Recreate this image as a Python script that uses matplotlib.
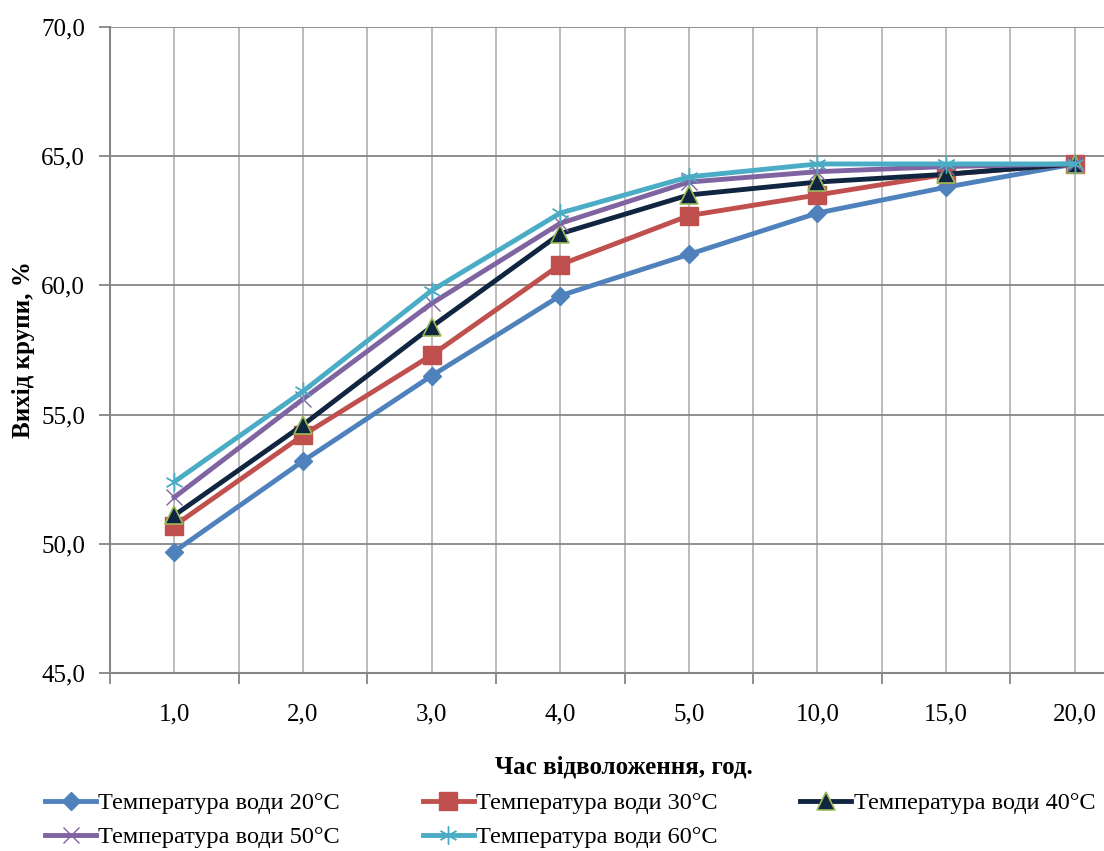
import numpy as np
import matplotlib
matplotlib.use("Agg")
import matplotlib.pyplot as plt
from matplotlib.ticker import FixedLocator, NullFormatter, FixedFormatter

plt.rcParams['font.family'] = ['Liberation Serif', 'DejaVu Serif']

# data
categories = ['1,0', '2,0', '3,0', '4,0', '5,0', '10,0', '15,0', '20,0']
t20 = [49.7, 53.2, 56.5, 59.6, 61.2, 62.8, 63.8, 64.7]
t30 = [50.7, 54.2, 57.3, 60.8, 62.7, 63.5, 64.3, 64.7]
t40 = [51.1, 54.6, 58.4, 62.0, 63.5, 64.0, 64.3, 64.7]
t50 = [51.8, 55.6, 59.3, 62.4, 64.0, 64.4, 64.6, 64.7]
t60 = [52.4, 55.9, 59.8, 62.8, 64.2, 64.7, 64.7, 64.7]
labels = ['Температура води 20°C', 'Температура води 30°C', 'Температура води 40°C',
          'Температура води 50°C', 'Температура води 60°C']

fig = plt.figure(figsize=(11.04, 8.51), dpi=100)
ax = fig.add_axes([110/1104, 1-673/851, 1-110/1104, (673-27)/851])

x = np.arange(len(categories))
h20, = ax.plot(x, t20, color='#4F81BD', lw=3.5, marker='D', ms=9, mec='#4F81BD', label=labels[0])
h30, = ax.plot(x, t30, color='#C0504D', lw=3.5, marker='s', ms=13, mec='#C0504D', label=labels[1])
h40, = ax.plot(x, t40, color='#10253F', lw=3.5, marker='^', ms=13, mec='#9BBB59', mew=1.2, label=labels[2])
h50, = ax.plot(x, t50, color='#8064A2', lw=3.5, marker='x', ms=11, mew=1.0, label=labels[3])
h60, = ax.plot(x, t60, color='#4BACC6', lw=3.5, marker=(6, 2, 0), ms=13, mew=1.0, label=labels[4])

ax.set_ylim(45, 70)
ax.set_xlim(-0.5, 7.5 - 35/128.6)
yt = np.arange(45, 71, 5)
ax.yaxis.set_major_locator(FixedLocator(yt))
ax.yaxis.set_major_formatter(FixedFormatter([('%.1f' % v).replace('.', ',') for v in yt]))

ax.xaxis.set_major_locator(FixedLocator(np.arange(-0.5, 8, 1)))
ax.xaxis.set_major_formatter(NullFormatter())
ax.xaxis.set_minor_locator(FixedLocator(x))
ax.xaxis.set_minor_formatter(FixedFormatter(categories))
ax.tick_params(axis='x', which='major', length=8, width=1.3, color='#868686', direction='out')
ax.tick_params(axis='x', which='minor', length=0, pad=22, labelsize=18)
ax.tick_params(axis='y', length=8, width=1.3, color='#868686', pad=10, labelsize=18)

ax.grid(axis='x', which='both', color='#B0B0B0', lw=1.2)
ax.grid(axis='y', which='major', color='#868686', lw=1.3)
ax.set_axisbelow(True)
for s in ['top', 'right']:
    ax.spines[s].set_visible(False)
for s in ['left', 'bottom']:
    ax.spines[s].set_color('#868686')
    ax.spines[s].set_linewidth(1.5)

ax.set_ylabel('Вихід крупи, %', fontsize=18, fontweight='bold')
ax.yaxis.set_label_coords(-0.0755, 0.5)
ax.set_xlabel('Час відволоження, год.', fontsize=18, fontweight='bold')
ax.xaxis.set_label_coords(0.517, -0.128)

# row-major order: 20, 30, 40 / 50, 60
fig.legend([h20, h50, h30, h60, h40], [labels[0], labels[3], labels[1], labels[4], labels[2]],
           loc='upper left', bbox_to_anchor=(45/1104, 1-792/851), ncol=3, frameon=False,
           fontsize=17.5, handlelength=2.1, handletextpad=0.1, columnspacing=3.4,
           borderpad=0, borderaxespad=0, labelspacing=0.5)

fig.savefig('out.png', dpi=100)
